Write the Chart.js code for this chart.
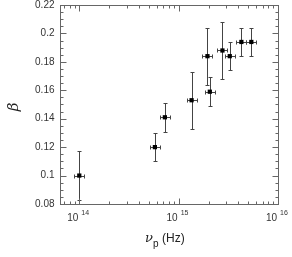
<!DOCTYPE html>
<html lang="en">
<head>
  <meta charset="UTF-8">
  <title>beta vs nu_p</title>
  <script src="https://cdn.jsdelivr.net/npm/chart.js"></script>
  <style>
    body { margin: 0; background: #fff; }
    #wrap { width: 292px; height: 257px; }
  </style>
</head>
<body>
<div id="wrap"><canvas id="chart" width="292" height="257"></canvas></div>
<script>
// data
const nuPeak   = [1.0e14, 5.77e14, 7.27e14, 1.35e15, 1.95e15, 2.06e15, 2.76e15, 3.27e15, 4.28e15, 5.39e15];
const beta     = [0.100, 0.120, 0.141, 0.153, 0.184, 0.159, 0.188, 0.184, 0.194, 0.194];
const betaErr  = [0.017, 0.010, 0.010, 0.020, 0.020, 0.010, 0.020, 0.010, 0.010, 0.010];
const nuErrDex = [0.05, 0.05, 0.05, 0.05, 0.05, 0.05, 0.05, 0.05, 0.05, 0.05];

const xDecades = [14, 15, 16];
const yTicks = [0.08, 0.1, 0.12, 0.14, 0.16, 0.18, 0.2, 0.22];
const yTickLabels = ['0.08', '0.1', '0.12', '0.14', '0.16', '0.18', '0.2', '0.22'];

const points = nuPeak.map((v, i) => ({ x: v, y: beta[i] }));

const FONT = '"Liberation Sans", Arial, sans-serif';
const AXIS = '#666';

// frame, inward ticks, labels, titles and error bars
const decor = {
  id: 'decor',
  beforeDatasetsDraw(chart) {
    const { ctx, chartArea: a, scales: { x, y } } = chart;
    ctx.save();
    ctx.strokeStyle = '#444';
    ctx.lineWidth = 1;
    nuPeak.forEach((v, i) => {
      const px = Math.round(x.getPixelForValue(v)) + 0.5;
      const py = Math.round(y.getPixelForValue(beta[i])) + 0.5;
      const top = Math.round(y.getPixelForValue(beta[i] + betaErr[i])) + 0.5;
      const bot = Math.round(y.getPixelForValue(beta[i] - betaErr[i])) + 0.5;
      const lft = Math.round(x.getPixelForValue(v / Math.pow(10, nuErrDex[i]))) + 0.5;
      const rgt = Math.round(x.getPixelForValue(v * Math.pow(10, nuErrDex[i]))) + 0.5;
      ctx.beginPath();
      ctx.moveTo(px, top); ctx.lineTo(px, bot);
      ctx.moveTo(px - 2, top); ctx.lineTo(px + 2, top);
      ctx.moveTo(px - 2, bot); ctx.lineTo(px + 2, bot);
      ctx.moveTo(lft, py); ctx.lineTo(rgt, py);
      ctx.moveTo(lft, py - 2); ctx.lineTo(lft, py + 2);
      ctx.moveTo(rgt, py - 2); ctx.lineTo(rgt, py + 2);
      ctx.stroke();
    });
    ctx.restore();
  },
  afterDraw(chart) {
    const { ctx, chartArea: a, scales: { x, y } } = chart;
    const L = Math.round(a.left) + 0.5, R = Math.round(a.right) + 0.5;
    const T = Math.round(a.top) + 0.5, B = Math.round(a.bottom) + 0.5;
    ctx.save();
    ctx.strokeStyle = AXIS;
    ctx.lineWidth = 1;
    ctx.strokeRect(L, T, R - L, B - T);

    ctx.beginPath();
    // y ticks, every 0.005, major every 0.02
    for (let k = 0; k <= 28; k++) {
      const v = 0.08 + k * 0.005;
      const py = Math.round(y.getPixelForValue(v)) + 0.5;
      const len = k % 4 === 0 ? 6 : 3;
      ctx.moveTo(L, py); ctx.lineTo(L + len, py);
      ctx.moveTo(R, py); ctx.lineTo(R - len, py);
    }
    // x ticks, log
    for (let d = 13; d <= 15; d++) {
      for (let m = 1; m <= 9; m++) {
        const v = m * Math.pow(10, d);
        if (v < x.min || v > x.max) continue;
        const px = Math.round(x.getPixelForValue(v)) + 0.5;
        const len = m === 1 ? 6 : 3;
        ctx.moveTo(px, B); ctx.lineTo(px, B - len);
        ctx.moveTo(px, T); ctx.lineTo(px, T + len);
      }
    }
    ctx.stroke();

    // y tick labels
    ctx.fillStyle = '#333';
    ctx.font = '10px ' + FONT;
    ctx.textAlign = 'right';
    ctx.textBaseline = 'middle';
    yTicks.forEach((v, i) => {
      ctx.fillText(yTickLabels[i], L - 6, y.getPixelForValue(v));
    });

    // x tick labels 10^n
    ctx.textBaseline = 'alphabetic';
    xDecades.forEach(n => {
      const px = x.getPixelForValue(Math.pow(10, n));
      ctx.font = '10px ' + FONT;
      ctx.textAlign = 'right';
      ctx.fillText('10', px - 1, B + 16);
      ctx.font = '7px ' + FONT;
      ctx.textAlign = 'left';
      ctx.fillText(String(n), px + 2, B + 10);
    });

    // x title: nu_p (Hz)
    ctx.fillStyle = '#222';
    ctx.textAlign = 'left';
    ctx.font = 'italic 13px "DejaVu Serif", serif';
    ctx.fillText('\u03bd', 145, 242);
    ctx.font = '10px ' + FONT;
    ctx.fillText('p', 153, 247);
    ctx.font = '12px ' + FONT;
    ctx.fillText('(Hz)', 162, 242);

    // y title: beta
    ctx.translate(14, 107);
    ctx.rotate(-Math.PI / 2);
    ctx.textAlign = 'center';
    ctx.textBaseline = 'middle';
    ctx.font = 'italic 15px "DejaVu Serif", serif';
    ctx.fillText('\u03b2', 0, 0);
    ctx.restore();
  }
};

new Chart(document.getElementById('chart'), {
  type: 'scatter',
  data: {
    datasets: [{
      data: points,
      pointStyle: 'rect',
      pointRadius: 3,
      pointHoverRadius: 3,
      backgroundColor: '#000',
      borderColor: '#000',
      borderWidth: 0
    }]
  },
  options: {
    responsive: false,
    animation: false,
    layout: { padding: { left: 60, right: 14, top: 5, bottom: 53 } },
    plugins: { legend: { display: false }, tooltip: { enabled: false } },
    scales: {
      x: { type: 'logarithmic', min: Math.pow(10, 13.806), max: 1e16, display: false },
      y: { type: 'linear', min: 0.08, max: 0.22, display: false }
    }
  },
  plugins: [decor]
});
</script>
</body>
</html>
